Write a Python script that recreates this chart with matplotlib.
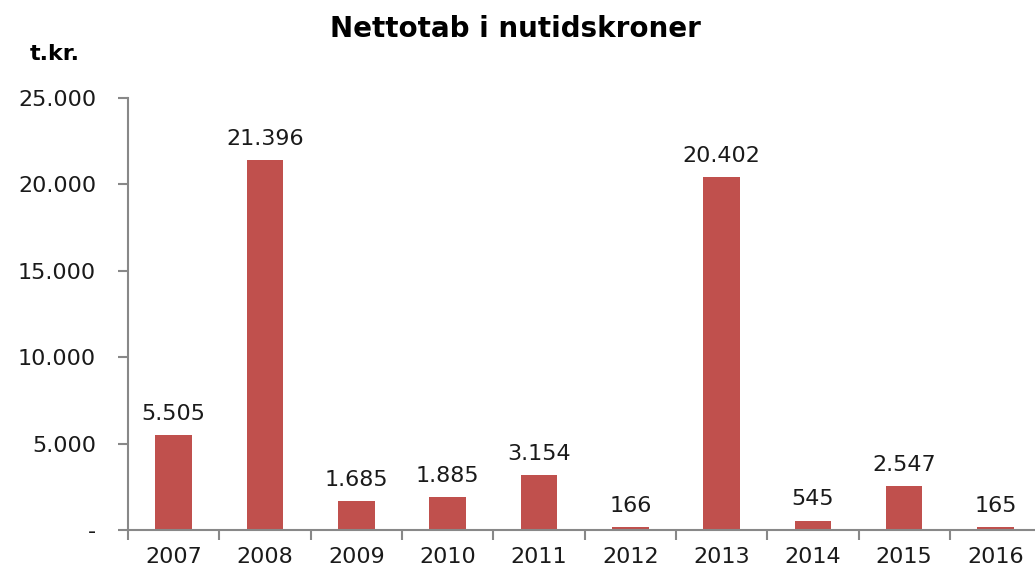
import matplotlib.pyplot as plt
from matplotlib.ticker import FuncFormatter

years = ["2007", "2008", "2009", "2010", "2011", "2012", "2013", "2014", "2015", "2016"]
nettotab = [5505, 21396, 1685, 1885, 3154, 166, 20402, 545, 2547, 165]


def tusind(v):
    if v == 0:
        return "-"
    return f"{v:,.0f}".replace(",", ".")


fig = plt.figure(figsize=(10.35, 5.71), dpi=100)
ax = fig.add_axes([0.1237, 0.0718, 0.8823, 0.7566])

x = range(len(years))
ax.bar(x, nettotab, width=0.4, color="#C0504D", zorder=2)

for i, v in enumerate(nettotab):
    ax.annotate(tusind(v), (i, v), xytext=(0, 8), textcoords="offset points",
                ha="center", va="bottom", fontsize=16, color="#1a1a1a")

ax.set_xlim(-0.5, len(years) - 0.5)
ax.set_ylim(0, 25000)
ax.set_yticks(range(0, 25001, 5000))
ax.yaxis.set_major_formatter(FuncFormatter(lambda v, p: tusind(v)))

ax.set_xticks([i - 0.5 for i in range(len(years) + 1)])
ax.set_xticklabels([])
ax.set_xticks(list(x), minor=True)
ax.set_xticklabels(years, minor=True)
ax.tick_params(axis="x", which="major", direction="out", length=7, color="#888888", width=1.5)
ax.tick_params(axis="x", which="minor", length=0, pad=12, labelsize=16, labelcolor="#1a1a1a")
ax.tick_params(axis="y", direction="out", length=7, color="#888888", width=1.5,
               pad=16, labelsize=16, labelcolor="#1a1a1a")

for side in ["top", "right"]:
    ax.spines[side].set_visible(False)
for side in ["left", "bottom"]:
    ax.spines[side].set_color("#888888")
    ax.spines[side].set_linewidth(1.5)

fig.text(0.498, 0.95, "Nettotab i nutidskroner", ha="center", va="center",
         fontsize=20, fontweight="bold", color="#000000")
fig.text(0.029, 0.905, "t.kr.", ha="left", va="center",
         fontsize=16, fontweight="bold", color="#000000")

fig.savefig("out.png", dpi=100)
